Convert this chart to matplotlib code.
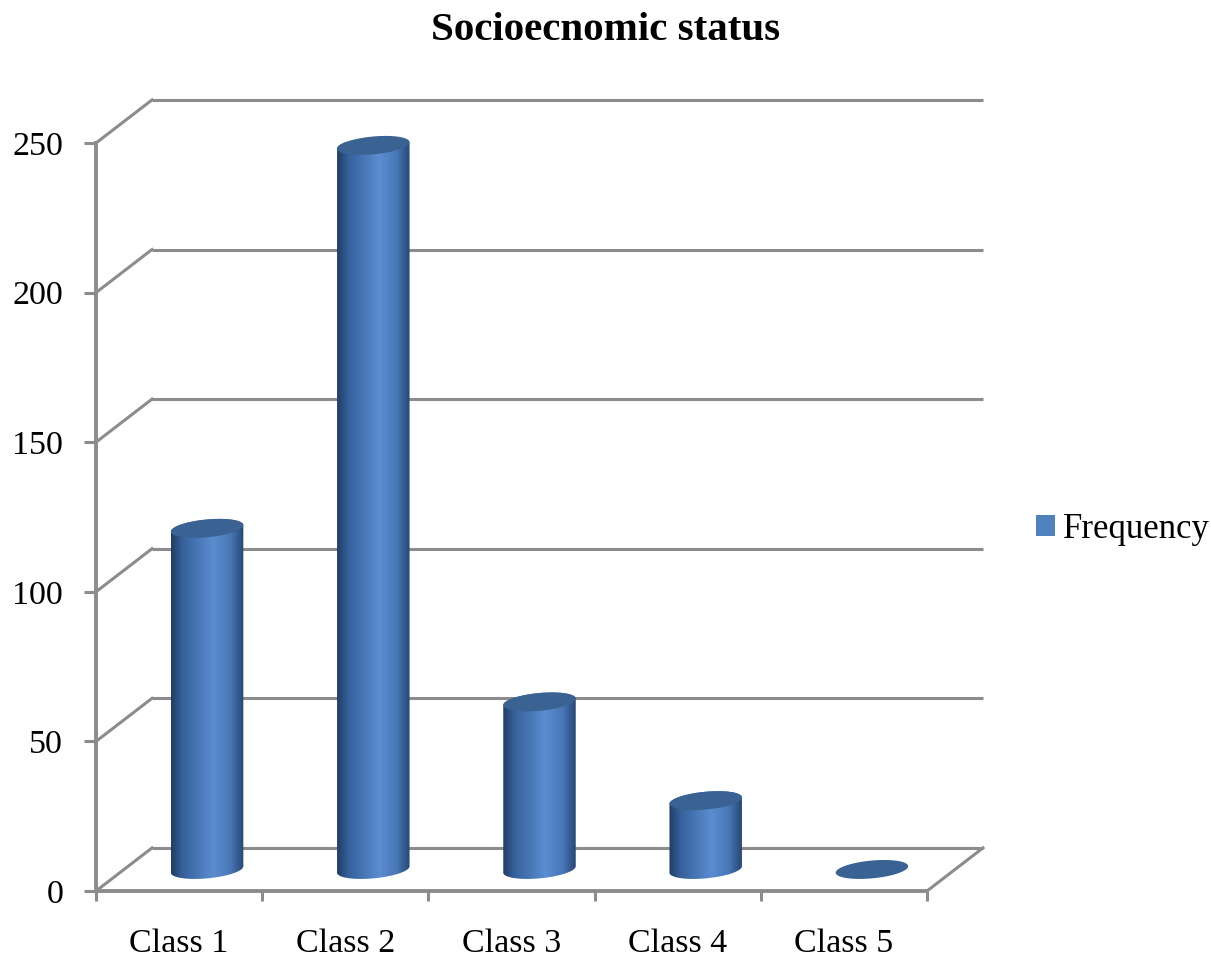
import numpy as np
import matplotlib.pyplot as plt
from matplotlib.patches import Polygon, Patch
from matplotlib.colors import LinearSegmentedColormap

classes = ['Class 1', 'Class 2', 'Class 3', 'Class 4', 'Class 5']
frequency = [114, 242, 56, 23, 0]
y_ticks = [0, 50, 100, 150, 200, 250]

plt.rcParams['font.family'] = ['Liberation Serif', 'DejaVu Serif']

# oblique depth offset of the back wall (category units, value units)
depth_x = 0.337
depth_y = 14.4
grid_col = '#8c8c8c'

# cylinder radius along x (category units) and along depth (fraction of depth)
rad_x = 0.205
rad_d = 0.22

fig = plt.figure(figsize=(12.11, 9.57), dpi=100)
ax = fig.add_axes([96 / 1211, 66 / 957, 831 / 1211, 748 / 957])
ax.set_xlim(0, 5)
ax.set_ylim(0, 250)

for s in ['top', 'right']:
    ax.spines[s].set_visible(False)
for s in ['left', 'bottom']:
    ax.spines[s].set_color(grid_col)
    ax.spines[s].set_linewidth(2.8)

ax.set_yticks(y_ticks)
ax.set_yticklabels([str(v) for v in y_ticks])
ax.tick_params(axis='y', direction='out', length=8.6, width=2.2, color=grid_col,
               labelsize=24.5, pad=15)
ax.set_xticks(range(6))
ax.set_xticklabels([])
ax.tick_params(axis='x', which='major', direction='out', length=7, width=2.2, color=grid_col)
ax.set_xticks(np.arange(5) + 0.5, minor=True)
ax.set_xticklabels(classes, minor=True)
ax.tick_params(axis='x', which='minor', length=0, labelsize=24.5, pad=27)

# back wall gridlines, left wall diagonals and floor
for v in y_ticks:
    ax.plot([depth_x, 5 + depth_x], [v + depth_y, v + depth_y], color=grid_col, lw=2.2,
            clip_on=False, zorder=1, solid_capstyle='butt')
    ax.plot([0, depth_x], [v, v + depth_y], color=grid_col, lw=2.2, clip_on=False, zorder=1)
ax.plot([5, 5 + depth_x], [0, depth_y], color=grid_col, lw=2.2, clip_on=False, zorder=1)

side_cmap = LinearSegmentedColormap.from_list('side', [
    (0.0, '#213c62'), (0.15, '#35609a'), (0.58, '#5b8dd1'),
    (0.82, '#4877b6'), (1.0, '#284775')])
gradient = np.linspace(0, 1, 256).reshape(1, -1)


def ellipse_pts(cx, cy, t):
    x = cx + rad_x * np.cos(t) + rad_d * depth_x * np.sin(t)
    y = cy + rad_d * depth_y * np.sin(t)
    return x, y


t_star = np.arctan2(rad_d * depth_x, rad_x)
half_w = np.hypot(rad_x, rad_d * depth_x)

for i, v in enumerate(frequency):
    cx = i + 0.5 + 0.5 * depth_x
    base = 0.5 * depth_y
    top = base + v
    if v > 0:
        t_low = np.linspace(t_star + np.pi, t_star + 2 * np.pi, 80)
        t_up = np.linspace(t_star, t_star + np.pi, 80)
        bx, by = ellipse_pts(cx, base, t_low)
        ux, uy = ellipse_pts(cx, top, t_up)
        body = Polygon(np.column_stack([np.r_[bx, ux], np.r_[by, uy]]), closed=True,
                       facecolor='none', edgecolor='none', clip_on=False, zorder=2)
        ax.add_patch(body)
        im = ax.imshow(gradient, cmap=side_cmap, aspect='auto', interpolation='bilinear',
                       extent=[cx - half_w, cx + half_w, base - depth_y, top + depth_y],
                       zorder=2)
        im.set_clip_path(body)
        im.set_clip_box(None)
    tt = np.linspace(0, 2 * np.pi, 120)
    ex, ey = ellipse_pts(cx, top, tt)
    ax.add_patch(Polygon(np.column_stack([ex, ey]), closed=True, facecolor='#3a6394',
                         edgecolor='none', clip_on=False, zorder=3))

ax.set_xlim(0, 5)
ax.set_ylim(0, 250)

fig.text(0.5, 1 - 31 / 957, 'Socioecnomic status', ha='center', va='center',
         fontsize=29.5, fontweight='bold')

fig.legend(handles=[Patch(facecolor='#4f81bd', edgecolor='none', label='Frequency')],
           loc='center left', bbox_to_anchor=(1036 / 1211, 1 - 529 / 957), frameon=False,
           fontsize=25, handlelength=0.55, handleheight=0.55, handletextpad=0.22,
           borderpad=0, borderaxespad=0)

fig.savefig('out.png', dpi=100)
